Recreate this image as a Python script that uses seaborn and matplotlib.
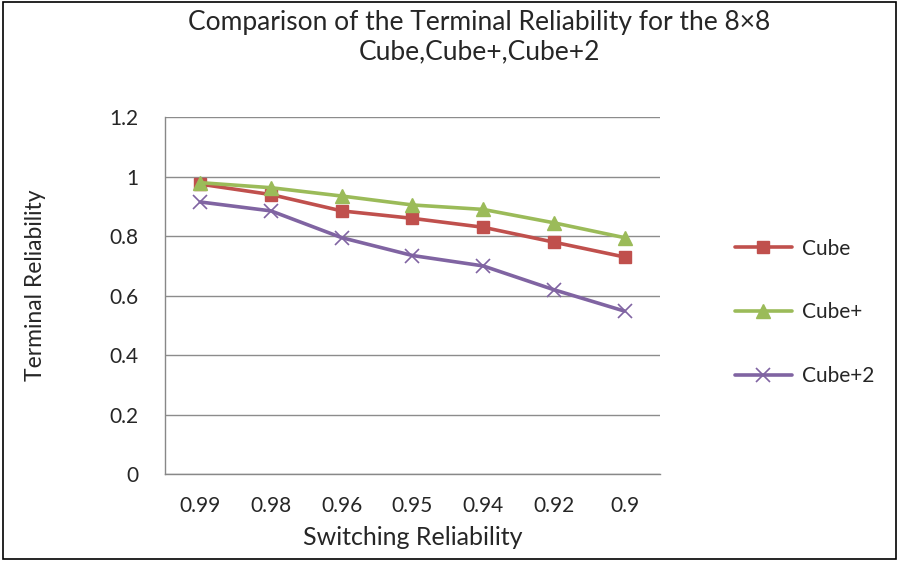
import numpy as np
import pandas as pd
import matplotlib
matplotlib.use("Agg")
import matplotlib.pyplot as plt
import seaborn as sb
from matplotlib.patches import Rectangle


switching = ['0.99', '0.98', '0.96', '0.95', '0.94', '0.92', '0.9']
cube = [0.975, 0.94, 0.885, 0.86, 0.83, 0.78, 0.73]
cube_plus = [0.98, 0.963, 0.935, 0.905, 0.89, 0.845, 0.795]
cube_plus2 = [0.915, 0.885, 0.795, 0.735, 0.70, 0.62, 0.548]
series_names = ['Cube', 'Cube+', 'Cube+2']
y_ticks = [0, 0.2, 0.4, 0.6, 0.8, 1, 1.2]


def main():
    sb.set_style('white')
    plt.rcParams['font.family'] = ['Lato', 'DejaVu Sans']

    fig = plt.figure(figsize=(8.99, 5.61), dpi=100)
    ax = fig.add_axes([0.1835, 0.155, 0.5505, 0.636])

    styles = [('#C0504D', 's', 9, cube),
              ('#9BBB59', '^', 10, cube_plus),
              ('#8064A2', 'x', 10, cube_plus2)]

    for name, (color, marker, size, values) in zip(series_names, styles):
        df = pd.DataFrame({'x': switching, 'y': values})
        sb.lineplot(data=df, x='x', y='y', ax=ax, color=color, marker=marker,
                    markersize=size, linewidth=2.6, label=name,
                    markeredgecolor=color, markeredgewidth=1.0 if marker != 'x' else 1.2)

    ax.set_xlim(-0.5, len(switching) - 0.5)
    ax.set_ylim(0, 1.2)
    ax.set_yticks(y_ticks)
    ax.set_yticklabels(['0', '0.2', '0.4', '0.6', '0.8', '1', '1.2'])
    ax.set_xticks(np.arange(len(switching)))
    ax.set_xticklabels(switching)
    ax.set_xticks(np.arange(len(switching) + 1) - 0.5, minor=True)
    ax.tick_params(axis='x', which='major', length=0, pad=16, labelsize=15)
    ax.tick_params(axis='x', which='minor', length=5, color='#888888', direction='out')
    ax.tick_params(axis='y', which='major', length=5, color='#888888', direction='out',
                   pad=14, labelsize=15)

    ax.grid(axis='y', color='#8c8c8c', linewidth=1.0)
    ax.set_axisbelow(True)
    for side in ['top', 'right']:
        ax.spines[side].set_visible(False)
    for side in ['left', 'bottom']:
        ax.spines[side].set_color('#888888')
        ax.spines[side].set_linewidth(1.0)

    ax.set_xlabel('')
    ax.set_ylabel('')
    fig.text(0.459, 0.041, 'Switching Reliability', ha='center', va='center', fontsize=18)
    fig.text(0.039, 0.492, 'Terminal Reliability', ha='center', va='center',
             rotation=90, fontsize=16.5)

    fig.text(0.533, 0.960, 'Comparison of the Terminal Reliability for the 8\u00d78',
             ha='center', va='center', fontsize=19)
    fig.text(0.533, 0.907, 'Cube,Cube+,Cube+2', ha='center', va='center', fontsize=19)

    ax.legend(loc='center left', bbox_to_anchor=(0.797, 0.443),
              bbox_transform=fig.transFigure, frameon=False, fontsize=15,
              labelspacing=2.1, handlelength=2.7, handletextpad=0.5)

    fig.patches.append(Rectangle((0.003, 0.004), 0.994, 0.992, transform=fig.transFigure,
                                 fill=False, edgecolor='black', linewidth=1.2))

    fig.savefig('out.png', dpi=100)


if __name__ == '__main__':
    main()
